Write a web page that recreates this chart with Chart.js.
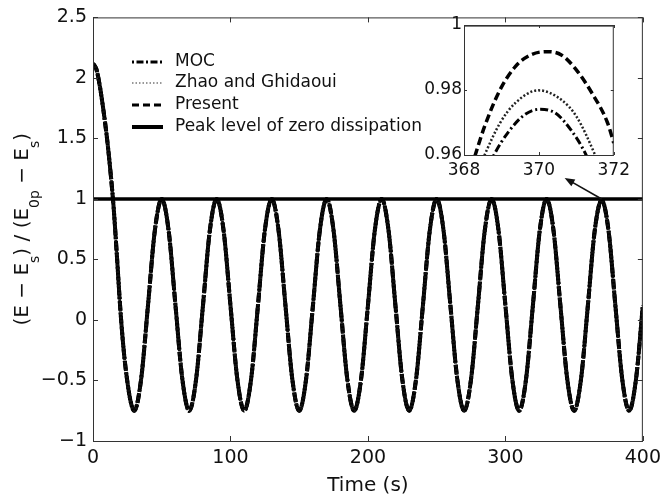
<!DOCTYPE html>
<html>
<head>
<meta charset="utf-8">
<script src="https://cdn.jsdelivr.net/npm/chart.js@4.4.0/dist/chart.umd.min.js"></script>
<style>
  body { margin: 0; background: #fff; }
  #wrap { position: relative; width: 667px; height: 498px; }
  #mainChart { position: absolute; left: 0; top: 0; }
  #insetChart { position: absolute; left: 410px; top: 10px; }
</style>
</head>
<body>
<div id="wrap">
  <canvas id="mainChart" width="667" height="498"></canvas>
  <canvas id="insetChart" width="225" height="175"></canvas>
</div>
<script>
// main plot: the three methods coincide at this scale, so one curve
const timeS = [0, 2.5, 5, 7.5, 10, 12.5, 15, 17.5, 20, 22.5, 25, 27.5,
  30, 35, 40, 45, 50, 55, 60, 65, 70, 75, 80, 85, 90, 95, 100, 105,
  110, 115, 120, 125, 130, 135, 140, 145, 150, 155, 160, 165, 170, 175, 180, 185,
  190, 195, 200, 205, 210, 215, 220, 225, 230, 235, 240, 245, 250, 255, 260, 265,
  270, 275, 280, 285, 290, 295, 300, 305, 310, 315, 320, 325, 330, 335, 340, 345,
  350, 355, 360, 365, 370, 375, 380, 385, 390, 395, 400];
const energyRatio = [2.12, 2.07, 1.93, 1.74, 1.52, 1.25, 0.93, 0.51, 0.07, -0.27, -0.51, -0.68,
  -0.75, -0.49, 0.12, 0.74, 1.00, 0.74, 0.12, -0.49,
  -0.75, -0.49, 0.12, 0.74, 1.00, 0.74, 0.12, -0.49,
  -0.75, -0.49, 0.12, 0.74, 1.00, 0.74, 0.12, -0.49,
  -0.75, -0.49, 0.12, 0.74, 1.00, 0.74, 0.12, -0.49,
  -0.75, -0.49, 0.12, 0.74, 1.00, 0.74, 0.12, -0.49,
  -0.75, -0.49, 0.12, 0.74, 1.00, 0.74, 0.12, -0.49,
  -0.75, -0.49, 0.12, 0.74, 1.00, 0.74, 0.12, -0.49,
  -0.75, -0.49, 0.12, 0.74, 1.00, 0.74, 0.12, -0.49,
  -0.75, -0.49, 0.12, 0.74, 0.99, 0.74, 0.12, -0.49,
  -0.75, -0.49, 0.12];
const peakLevel = 1;
const xRangeMain = [0, 400];
const xTicksMain = [0, 100, 200, 300, 400];
const yTicksMain = [-1, -0.5, 0, 0.5, 1, 1.5, 2, 2.5];

// inset, zoom on the peak near t = 370 s
const presentT = [368.0, 368.3, 368.55, 368.96, 369.37, 369.78, 370.19, 370.6, 371.0, 371.42, 371.83, 372.0];
const presentV = [0.949, 0.960, 0.9688, 0.980, 0.9872, 0.9908, 0.9918, 0.9908, 0.9862, 0.979, 0.970, 0.9637];
const zhaoT = [368.3, 368.55, 368.96, 369.37, 369.99, 370.6, 371.0, 371.5, 371.8];
const zhaoV = [0.953, 0.960, 0.9698, 0.976, 0.9799, 0.977, 0.9719, 0.960, 0.951];
const mocT = [368.5, 368.8, 369.2, 369.62, 370.03, 370.44, 370.85, 371.26, 371.5];
const mocV = [0.952, 0.960, 0.9673, 0.9724, 0.9741, 0.9729, 0.9678, 0.960, 0.953];
const xRangeInset = [368, 372];
const xTicksInset = [368, 370, 372];
const yTicksInset = [0.96, 0.98, 1];

const legendNames = ["MOC", "Zhao and Ghidaoui", "Present", "Peak level of zero dissipation"];

Chart.defaults.font.family = "'DejaVu Sans', sans-serif";
Chart.defaults.color = "#111";

const pts = (xs, ys) => xs.map((x, i) => ({ x: x, y: ys[i] }));
const fmt = v => v < 0 ? "\u2212" + Math.abs(v) : String(v);

const styles = {
    moc: { width: 4, dash: [9, 2, 2, 2], color: "#000" },
    zhao: { width: 3, dash: [2, 1.5], color: "#111" },
    present: { width: 4, dash: [10, 2], color: "#000" },
    peak: { width: 3.5, dash: [], color: "#000" }
};

function lineSet(data, st) {
    return {
        data: data, borderColor: st.color, borderWidth: st.width, borderDash: st.dash,
        pointRadius: 0, fill: false, cubicInterpolationMode: "monotone", clip: 0
    };
}

function drawBoxTicks(chart, len) {
    const { ctx, chartArea: a, scales: { x, y } } = chart;
    ctx.save();
    ctx.strokeStyle = "#333";
    ctx.lineWidth = 1;
    ctx.strokeRect(a.left + 0.5, a.top + 0.5, a.right - a.left - 1, a.bottom - a.top);
    ctx.beginPath();
    x.ticks.forEach(t => {
        const px = Math.round(x.getPixelForValue(t.value)) + 0.5;
        ctx.moveTo(px, a.bottom); ctx.lineTo(px, a.bottom - len);
        ctx.moveTo(px, a.top); ctx.lineTo(px, a.top + len);
    });
    y.ticks.forEach(t => {
        const py = Math.round(y.getPixelForValue(t.value)) + 0.5;
        ctx.moveTo(a.left, py); ctx.lineTo(a.left + len, py);
        ctx.moveTo(a.right, py); ctx.lineTo(a.right - len, py);
    });
    ctx.stroke();
    ctx.restore();
}

const mainDecor = {
    id: "mainDecor",
    afterDraw(chart) {
        const { ctx, chartArea: a, scales: { x, y } } = chart;
        drawBoxTicks(chart, 5);

        // legend inside the plot
        const keys = ["moc", "zhao", "present", "peak"];
        const rows = [62, 83, 105, 127];
        const sample = {
            moc: { w: 3, dash: [2, 2.5, 7, 2.5] },
            zhao: { w: 1.5, dash: [1.5, 2] },
            present: { w: 3, dash: [7, 4] },
            peak: { w: 4, dash: [] }
        };
        ctx.save();
        ctx.font = "17px 'DejaVu Sans'";
        ctx.textBaseline = "middle";
        ctx.fillStyle = "#111";
        keys.forEach((k, i) => {
            ctx.beginPath();
            ctx.setLineDash(sample[k].dash);
            ctx.lineWidth = sample[k].w;
            ctx.strokeStyle = k === "zhao" ? "#777" : "#000";
            ctx.moveTo(132, rows[i]); ctx.lineTo(163, rows[i]);
            ctx.stroke();
            ctx.setLineDash([]);
            ctx.fillText(legendNames[i], 175, rows[i]);
        });
        ctx.restore();

        // y axis title with subscripts
        const parts = [["(E \u2212 E", 0], ["s", 1], [") / (E", 0], ["0p", 1], [" \u2212 E", 0], ["s", 1], [")", 0]];
        ctx.save();
        const cy = (a.top + a.bottom) / 2;
        ctx.translate(28, cy);
        ctx.rotate(-Math.PI / 2);
        ctx.fillStyle = "#111";
        ctx.textBaseline = "alphabetic";
        let total = 0;
        parts.forEach(p => {
            ctx.font = (p[1] ? "14px" : "20px") + " 'DejaVu Sans'";
            total += ctx.measureText(p[0]).width;
        });
        let cx = -total / 2;
        parts.forEach(p => {
            ctx.font = (p[1] ? "14px" : "20px") + " 'DejaVu Sans'";
            ctx.fillText(p[0], cx, p[1] ? 11 : 0);
            cx += ctx.measureText(p[0]).width;
        });
        ctx.restore();

        // arrow from the peak at 370 s to the inset
        const tx = x.getPixelForValue(370), ty = y.getPixelForValue(peakLevel);
        const hx = tx - 37, hy = ty - 21;
        const ang = Math.atan2(hy - ty, hx - tx);
        ctx.save();
        ctx.strokeStyle = "#111";
        ctx.fillStyle = "#111";
        ctx.lineWidth = 1.6;
        ctx.beginPath();
        ctx.moveTo(tx, ty); ctx.lineTo(hx - 6 * Math.cos(ang), hy - 6 * Math.sin(ang));
        ctx.stroke();
        ctx.beginPath();
        ctx.moveTo(hx, hy);
        ctx.lineTo(hx - 10 * Math.cos(ang) + 4 * Math.sin(ang), hy - 10 * Math.sin(ang) - 4 * Math.cos(ang));
        ctx.lineTo(hx - 10 * Math.cos(ang) - 4 * Math.sin(ang), hy - 10 * Math.sin(ang) + 4 * Math.cos(ang));
        ctx.closePath();
        ctx.fill();
        ctx.restore();
    }
};

const mainCurve = pts(timeS, energyRatio);
new Chart(document.getElementById("mainChart"), {
    type: "line",
    data: {
        datasets: [
            lineSet(pts(xRangeMain, [peakLevel, peakLevel]), styles.peak),
            lineSet(mainCurve, styles.zhao),
            lineSet(mainCurve, styles.moc),
            lineSet(mainCurve, styles.present)
        ]
    },
    options: {
        responsive: false,
        animation: false,
        layout: { padding: { top: 16, right: 19, left: 0, bottom: 0 } },
        plugins: { legend: { display: false }, tooltip: { enabled: false } },
        scales: {
            x: {
                type: "linear", min: xRangeMain[0], max: xRangeMain[1],
                afterBuildTicks: s => { s.ticks = xTicksMain.map(v => ({ value: v })); },
                ticks: { font: { size: 19 }, padding: 6, maxRotation: 0, callback: fmt },
                grid: { display: false, drawTicks: false },
                border: { display: false },
                title: { display: true, text: "Time (s)", font: { size: 20 }, padding: { top: 0, bottom: 0 } },
                afterFit: s => { s.height = 57; }
            },
            y: {
                min: yTicksMain[0], max: yTicksMain[yTicksMain.length - 1],
                afterBuildTicks: s => { s.ticks = yTicksMain.map(v => ({ value: v })); },
                ticks: { font: { size: 19 }, padding: 6, callback: fmt },
                grid: { display: false, drawTicks: false },
                border: { display: false },
                afterFit: s => { s.width = 93; }
            }
        }
    },
    plugins: [mainDecor]
});

const insetDecor = {
    id: "insetDecor",
    afterDraw(chart) { drawBoxTicks(chart, 3); }
};

new Chart(document.getElementById("insetChart"), {
    type: "line",
    data: {
        datasets: [
            lineSet(pts(xRangeInset, [peakLevel, peakLevel]), { width: 3, dash: [], color: "#000" }),
            lineSet(pts(presentT, presentV), { width: 3.5, dash: [8, 4], color: "#000" }),
            lineSet(pts(zhaoT, zhaoV), { width: 2.5, dash: [2, 2], color: "#222" }),
            lineSet(pts(mocT, mocV), { width: 3, dash: [8, 3, 2, 3], color: "#000" })
        ]
    },
    options: {
        responsive: false,
        animation: false,
        layout: { padding: { top: 15, right: 8, left: 0, bottom: 0 } },
        plugins: { legend: { display: false }, tooltip: { enabled: false } },
        scales: {
            x: {
                type: "linear", min: xRangeInset[0], max: xRangeInset[1],
                afterBuildTicks: s => { s.ticks = xTicksInset.map(v => ({ value: v })); },
                ticks: { font: { size: 17 }, padding: 5, maxRotation: 0 },
                grid: { display: false, drawTicks: false },
                border: { display: false },
                afterFit: s => { s.height = 30; }
            },
            y: {
                min: yTicksInset[0], max: yTicksInset[yTicksInset.length - 1],
                afterBuildTicks: s => { s.ticks = yTicksInset.map(v => ({ value: v })); },
                ticks: { font: { size: 17 }, padding: 2, callback: v => String(v) },
                grid: { display: false, drawTicks: false },
                border: { display: false },
                afterFit: s => { s.width = 54; }
            }
        }
    },
    plugins: [insetDecor]
});
</script>
</body>
</html>
